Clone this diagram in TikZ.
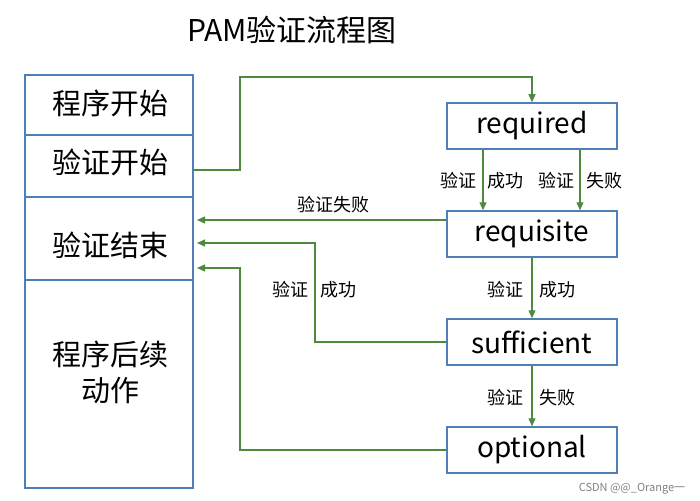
\documentclass[tikz,border=0pt]{standalone}
\usepackage{fontspec}
\setmainfont{Noto Sans CJK SC}
\usetikzlibrary{arrows.meta}
\definecolor{bx}{HTML}{4F7FB8}
\definecolor{ar}{HTML}{4E8A3E}
\begin{document}
\begin{tikzpicture}[x=1pt,y=-1pt,
  box/.style={draw=bx,line width=1.5pt,minimum width=170pt,minimum height=46pt,inner sep=0pt,font=\fontsize{28}{30}\selectfont},
  big/.style={font=\fontsize{29}{36}\selectfont,align=center},
  lbl/.style={font=\fontsize{18}{20}\selectfont,inner sep=1pt},
  arr/.style={draw=ar,line width=1.2pt,-{Triangle[length=8pt,width=7pt]}}]
\useasboundingbox (0,0) rectangle (700,500);
\node[font=\fontsize{30}{34}\selectfont] (title) at (292,30) {PAM验证流程图};
\draw[bx,line width=1.5pt] (25,75) rectangle (193,488);
\draw[bx,line width=1.5pt] (25,135) -- (193,135) (25,197) -- (193,197) (25,280) -- (193,280);
\node[big] (s1) at (110,103) {程序开始};
\node[big] (s2) at (110,162) {验证开始};
\node[big] (s3) at (110,245) {验证结束};
\node[big] (s4) at (110,372) {程序后续\\动作};
\coordinate (v1) at (193,170);
\coordinate (e1) at (197,220);
\coordinate (e2) at (197,243);
\coordinate (e3) at (197,268);
\node[box] (req) at (532,126) {required};
\node[box] (rqs) at (532,234) {requisite};
\node[box] (suf) at (532,342) {sufficient};
\node[box] (opt) at (532,450) {optional};
\draw[arr] (v1) -- (240,170) -- (240,77) -- (532,77) -- (req.north);
\draw[arr] (req.south -| 483,0) -- (rqs.north -| 483,0);
\draw[arr] (req.south -| 580,0) -- (rqs.north -| 580,0);
\node[lbl] (l1) at (458,181) {验证};
\node[lbl] (l2) at (505,181) {成功};
\node[lbl] (l3) at (556,181) {验证};
\node[lbl] (l4) at (604,181) {失败};
\draw[arr] (rqs.west |- 0,220) -- (e1);
\node[lbl] (l5) at (333,205) {验证失败};
\draw[arr] (rqs.south) -- (suf.north);
\node[lbl] (l6) at (505,290) {验证};
\node[lbl] (l7) at (557,290) {成功};
\draw[arr] (suf.west) -- (315,342) -- (315,243) -- (e2);
\node[lbl] (l8) at (290,290) {验证};
\node[lbl] (l9) at (338,290) {成功};
\draw[arr] (suf.south) -- (opt.north);
\node[lbl] (l10) at (505,398) {验证};
\node[lbl] (l11) at (557,398) {失败};
\draw[arr] (opt.west) -- (240,450) -- (240,268) -- (e3);
\node[font=\fontsize{11}{12}\selectfont,text=gray] (wm) at (632,489) {CSDN @@\_Orange一};
\end{tikzpicture}
\end{document}
